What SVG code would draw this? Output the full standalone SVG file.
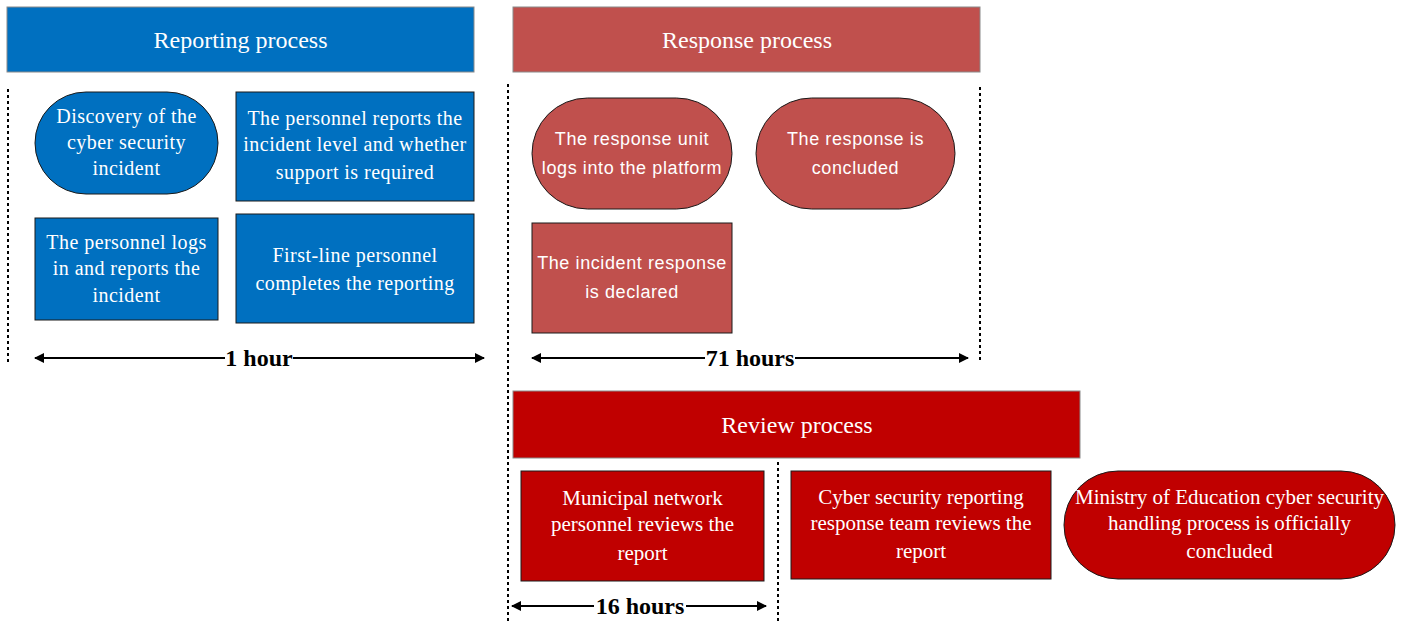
<svg xmlns="http://www.w3.org/2000/svg" width="1402" height="622" viewBox="0 0 1402 622">
<style>
.hdr{stroke:#8a8a8a;stroke-width:1}
.node{stroke:#1a1a1a;stroke-width:1}
.blue{fill:#0070C0}
.resp{fill:#C0504D}
.rev{fill:#C00000}
.ht{font-family:"Liberation Serif",serif;font-size:24px;fill:#fff;text-anchor:middle}
.st{font-family:"Liberation Serif",serif;font-size:20px;letter-spacing:0.45px;fill:#fff;text-anchor:middle}
.rt{font-family:"Liberation Serif",serif;font-size:21px;fill:#fff;text-anchor:middle}
.ss{font-family:"Liberation Sans",sans-serif;font-size:18px;letter-spacing:0.6px;fill:#fff;text-anchor:middle}
.lbl{font-family:"Liberation Serif",serif;font-size:24px;font-weight:bold;fill:#000;text-anchor:middle}
.dot{stroke:#000;stroke-width:2;stroke-dasharray:3,3;fill:none}
.arr{stroke:#000;stroke-width:2;fill:none}
</style>
<defs>
<marker id="ah" viewBox="0 0 10 10" refX="9" refY="5" markerWidth="5.5" markerHeight="5" orient="auto-start-reverse">
<path d="M0,0 L10,5 L0,10 Z" fill="#000"/>
</marker>
</defs>

<g id="reporting-header">
<rect class="hdr blue" x="7" y="7" width="467" height="65"/>
<text class="ht" x="240.5" y="48">Reporting process</text>
</g>
<g id="response-header">
<rect class="hdr resp" x="513" y="7" width="467" height="65"/>
<text class="ht" x="747" y="48">Response process</text>
</g>
<g id="review-header">
<rect class="hdr rev" x="513" y="391" width="567" height="67"/>
<text class="ht" x="797" y="433">Review process</text>
</g>

<g id="n-discovery">
<rect class="node blue" x="35" y="92" width="183" height="102" rx="51" ry="51"/>
<text class="st" x="126.5" y="123">Discovery of the</text>
<text class="st" x="126.5" y="149">cyber security</text>
<text class="st" x="126.5" y="175">incident</text>
</g>
<g id="n-reports-level">
<rect class="node blue" x="236" y="92" width="238" height="109"/>
<text class="st" x="355" y="125">The personnel reports the</text>
<text class="st" x="355" y="151">incident level and whether</text>
<text class="st" x="355" y="179">support is required</text>
</g>
<g id="n-logs-in">
<rect class="node blue" x="35" y="218" width="183" height="102"/>
<text class="st" x="126.5" y="249">The personnel logs</text>
<text class="st" x="126.5" y="275">in and reports the</text>
<text class="st" x="126.5" y="302">incident</text>
</g>
<g id="n-first-line">
<rect class="node blue" x="236" y="214" width="238" height="109"/>
<text class="st" x="355" y="262">First-line personnel</text>
<text class="st" x="355" y="290">completes the reporting</text>
</g>

<g id="n-response-unit">
<rect class="node resp" x="532" y="98" width="200" height="111" rx="55.5" ry="55.5"/>
<text class="ss" x="632" y="144.5">The response unit</text>
<text class="ss" x="632" y="173.5">logs into the platform</text>
</g>
<g id="n-response-concluded">
<rect class="node resp" x="756" y="98" width="199" height="111" rx="55.5" ry="55.5"/>
<text class="ss" x="855.5" y="144.5">The response is</text>
<text class="ss" x="855.5" y="173.5">concluded</text>
</g>
<g id="n-declared">
<rect class="node resp" x="532" y="223" width="200" height="110"/>
<text class="ss" x="632" y="268.5">The incident response</text>
<text class="ss" x="632" y="297.5">is declared</text>
</g>

<g id="n-municipal">
<rect class="node rev" x="521" y="471" width="243" height="110"/>
<text class="rt" x="642.5" y="505">Municipal network</text>
<text class="rt" x="642.5" y="531">personnel reviews the</text>
<text class="rt" x="642.5" y="560">report</text>
</g>
<g id="n-cyber-team">
<rect class="node rev" x="791" y="471" width="260" height="108"/>
<text class="rt" x="921" y="504">Cyber security reporting</text>
<text class="rt" x="921" y="530">response team reviews the</text>
<text class="rt" x="921" y="558">report</text>
</g>
<g id="n-ministry">
<rect class="node rev" x="1064" y="471" width="331" height="108" rx="54" ry="54"/>
<text class="rt" x="1229.5" y="504">Ministry of Education cyber security</text>
<text class="rt" x="1229.5" y="530">handling process is officially</text>
<text class="rt" x="1229.5" y="558">concluded</text>
</g>

<g id="connectors">
<line class="dot" x1="8" y1="89" x2="8" y2="365"/>
<line class="dot" x1="508" y1="84" x2="508" y2="622"/>
<line class="dot" x1="980" y1="87" x2="980" y2="360"/>
<line class="dot" x1="778" y1="462" x2="778" y2="622"/>
<line class="arr" x1="225" y1="358" x2="35" y2="358" marker-end="url(#ah)"/>
<line class="arr" x1="293" y1="358" x2="484" y2="358" marker-end="url(#ah)"/>
<line class="arr" x1="705" y1="358" x2="532" y2="358" marker-end="url(#ah)"/>
<line class="arr" x1="795" y1="358" x2="968" y2="358" marker-end="url(#ah)"/>
<line class="arr" x1="594" y1="606" x2="512" y2="606" marker-end="url(#ah)"/>
<line class="arr" x1="686" y1="606" x2="766" y2="606" marker-end="url(#ah)"/>
<text class="lbl" x="259" y="366">1 hour</text>
<text class="lbl" x="750" y="366">71 hours</text>
<text class="lbl" x="640" y="614">16 hours</text>
</g>
</svg>
